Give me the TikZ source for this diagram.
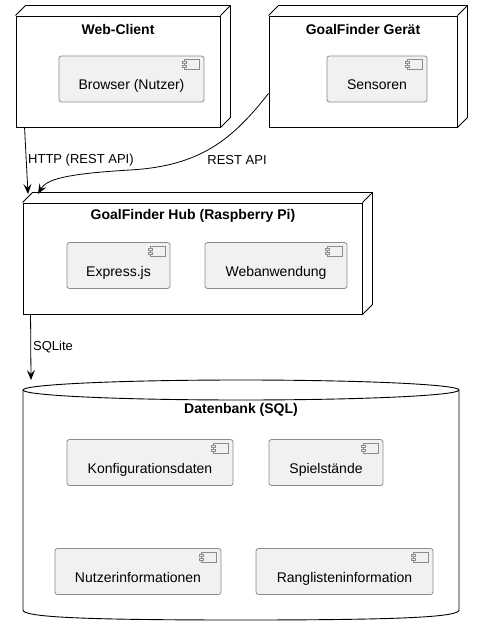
\documentclass[tikz,border=0pt]{standalone}
\usepackage{fontspec}
\setmainfont{Liberation Sans}
\usetikzlibrary{arrows.meta,calc}
\definecolor{compfill}{HTML}{F1F1F1}
\definecolor{compline}{HTML}{8C8C8C}
\tikzset{
  devnode/.style={draw, fill=white, line width=0.9pt, minimum width=#1, minimum height=111pt, inner sep=0pt},
  comp/.style={draw=compline, fill=compfill, line width=0.8pt, rounded corners=2.5pt,
    minimum height=46pt, inner sep=0pt, text height=22pt, text depth=0pt, font=\fontsize{14}{16}\selectfont},
  titletext/.style={font=\fontsize{14}{16}\selectfont\bfseries},
  linklabel/.style={font=\fontsize{13}{15}\selectfont, inner sep=0pt},
  link/.style={line width=0.8pt, -{Stealth[length=10pt,width=8pt,inset=4pt]}}
}
\begin{document}
\begin{tikzpicture}[x=1pt,y=-1pt]
  \useasboundingbox (0,0) rectangle (482,636);
  \def\depth{10}
  % nodes
  \node[devnode=204pt] (wc) at (118,71.5) {};
  \node[devnode=188pt] (gf) at (363,71.5) {};
  \node[devnode=339pt] (hub) at (192.5,258.5) {};
  \foreach \n in {wc,gf,hub} {
    \draw[line width=0.9pt] (\n.north west) -- ++(\depth,-\depth) -| ($(\n.south east)+(\depth,-\depth)$) -- (\n.south east);
    \draw[line width=0.9pt] (\n.north east) -- ++(\depth,-\depth);
  }
  \node[titletext] (wctitle) at (118,29) {Web-Client};
  \node[titletext] (gftitle) at (363,29) {GoalFinder Gerät};
  \node[titletext] (hubtitle) at (193,216) {GoalFinder Hub (Raspberry Pi)};
  % database
  \draw[line width=0.9pt, fill=white] (23,390) -- (23,610) .. controls (23,617) and (80,620) .. (241,620)
    .. controls (402,620) and (459,617) .. (459,610) -- (459,390);
  \draw[line width=0.9pt, fill=white] (241,390) ellipse [x radius=218, y radius=10];
  \node[inner sep=0pt, minimum width=436pt, minimum height=240pt] (db) at (241,500) {};
  \node[titletext] (dbtitle) at (241,410) {Datenbank (SQL)};
  % components
  \node[comp, minimum width=145pt] (browser) at (131.5,79) {Browser (Nutzer)};
  \node[comp, minimum width=100pt] (sensor) at (377,79) {Sensoren};
  \node[comp, minimum width=103pt] (express) at (118.5,265.5) {Express.js};
  \node[comp, minimum width=142pt] (webapp) at (276,265.5) {Webanwendung};
  \node[comp, minimum width=166pt] (config) at (150,462.5) {Konfigurationsdaten};
  \node[comp, minimum width=114pt] (scores) at (326,462.5) {Spielstände};
  \node[comp, minimum width=166pt] (users) at (138,571.5) {Nutzerinformationen};
  \node[comp, minimum width=177pt] (ranks) at (344.5,571.5) {Ranglisteninformation};
  \foreach \c in {browser,sensor,express,webapp,config,scores,users,ranks} {
    \draw[compline, line width=0.7pt, fill=compfill] ($(\c.north east)+(-20,4)$) rectangle ++(15,10);
    \draw[compline, line width=0.7pt, fill=compfill] ($(\c.north east)+(-22,6)$) rectangle ++(4,2);
    \draw[compline, line width=0.7pt, fill=compfill] ($(\c.north east)+(-22,10)$) rectangle ++(4,2);
  }
  % links
  \coordinate (hubin1) at (28,194);
  \coordinate (hubin2) at (38,194);
  \coordinate (dbin) at (31,380);
  \draw[link] ($(wc.south west)+(9,0)$) -- (hubin1);
  \draw[link] ($(gf.south west)+(0,-34)$) .. controls (232,140) and (200,166) .. (130,170)
    .. controls (62,174) and (46,180) .. (hubin2);
  \draw[link] ($(hub.south west)+(8,0)$) -- (dbin);
  \node[linklabel, anchor=west] (httplabel) at (28,160) {HTTP (REST API)};
  \node[linklabel] (restlabel) at (237,160) {REST API};
  \node[linklabel, anchor=west] (sqllabel) at (33,347) {SQLite};
\end{tikzpicture}
\end{document}
